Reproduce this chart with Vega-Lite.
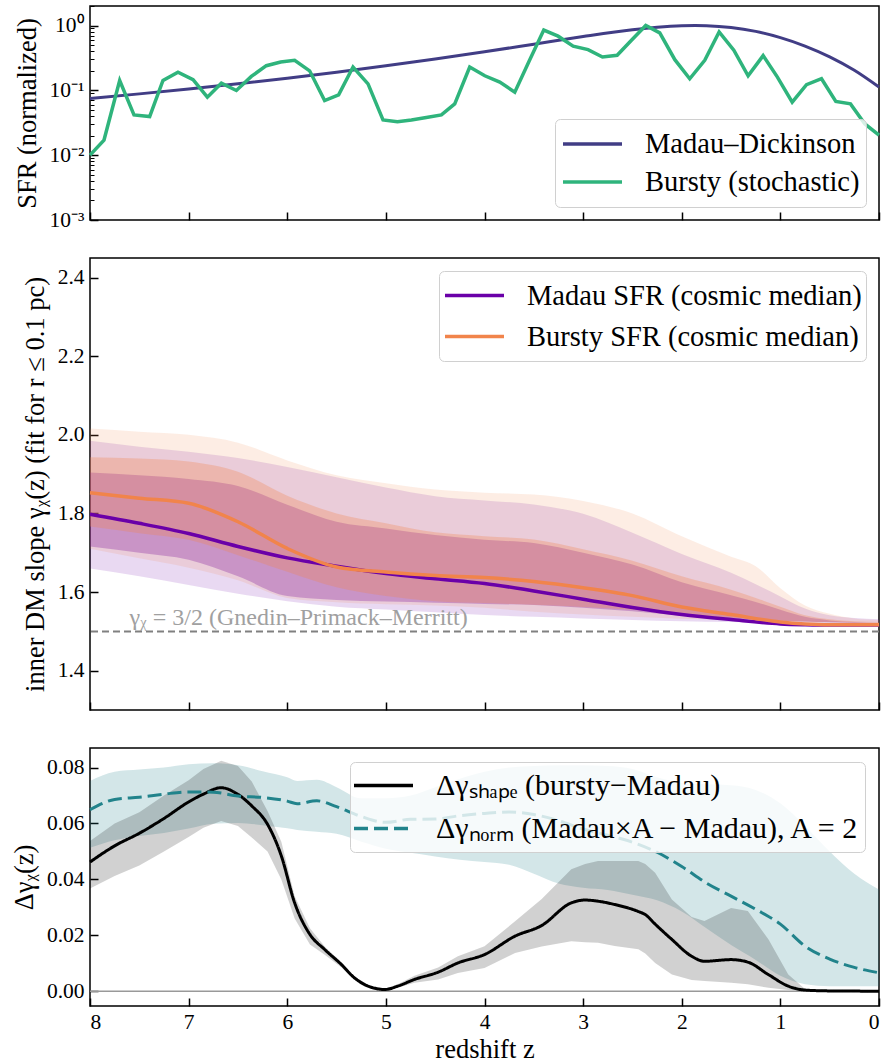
{
  "$schema": "https://vega.github.io/schema/vega-lite/v6.json",
  "padding": {"left": 10, "top": 4, "right": 0, "bottom": 0},
  "background": "white",
  "spacing": 38,
  "bounds": "flush",
  "resolve": {"scale": {"color": "independent", "strokeDash": "independent"}},
  "config": {
    "font": "Liberation Serif",
    "view": {"stroke": "black", "strokeWidth": 1.5},
    "style": {"guide-label": {"font": "Liberation Serif", "fontWeight": "normal"}, "guide-title": {"font": "Liberation Serif", "fontWeight": "normal"}},
    "axis": {
      "domain": false, "grid": false, "ticks": true,
      "tickColor": "black", "tickWidth": 1.5, "tickSize": -8,
      "labelFont": "Liberation Serif", "labelFontWeight": "normal", "labelFontSize": 21.5, "labelColor": "black",
      "titleFont": "Liberation Serif", "titleFontSize": 26.5, "titleFontWeight": "normal", "titleColor": "black"
    },
    "axisY": {"labelPadding": 14, "titlePadding": 8},
    "axisX": {"labelPadding": 13, "titlePadding": 4},
    "legend": {
      "labelFont": "Liberation Serif", "labelFontSize": 28.5, "labelColor": "black", "labelLimit": 700,
      "fillColor": "rgba(255,255,255,0.8)", "strokeColor": "#d0d0d0", "cornerRadius": 5,
      "padding": 9, "symbolType": "stroke", "symbolSize": 3481, "symbolStrokeWidth": 3.5,
      "labelOffset": 21, "rowPadding": 0, "clipHeight": 40, "offset": 13
    }
  },
  "datasets": {
    "sfr_madau": [
      {"z": 0, "sfr": 0.1125}, {"z": 0.25, "sfr": 0.2042}, {"z": 0.5, "sfr": 0.3289}, {"z": 0.75, "sfr": 0.4825},
      {"z": 1, "sfr": 0.6516}, {"z": 1.25, "sfr": 0.8113}, {"z": 1.5, "sfr": 0.9326}, {"z": 1.75, "sfr": 0.9937},
      {"z": 1.863, "sfr": 1.0}, {"z": 2, "sfr": 0.9915}, {"z": 2.25, "sfr": 0.9394}, {"z": 2.5, "sfr": 0.8588},
      {"z": 3, "sfr": 0.6749}, {"z": 3.5, "sfr": 0.5149}, {"z": 4, "sfr": 0.3931}, {"z": 4.5, "sfr": 0.3039},
      {"z": 5, "sfr": 0.2387}, {"z": 5.5, "sfr": 0.1903}, {"z": 6, "sfr": 0.1541}, {"z": 6.5, "sfr": 0.1264},
      {"z": 7, "sfr": 0.1050}, {"z": 7.5, "sfr": 0.0882}, {"z": 8, "sfr": 0.0746}
    ],
    "sfr_bursty": [
      {"z": 8, "sfr": 0.0100}, {"z": 7.858, "sfr": 0.0171}, {"z": 7.699, "sfr": 0.142}, {"z": 7.554, "sfr": 0.0417},
      {"z": 7.395, "sfr": 0.0394}, {"z": 7.26, "sfr": 0.142}, {"z": 7.108, "sfr": 0.191}, {"z": 6.955, "sfr": 0.146},
      {"z": 6.81, "sfr": 0.0785}, {"z": 6.668, "sfr": 0.129}, {"z": 6.516, "sfr": 0.0996}, {"z": 6.364, "sfr": 0.164},
      {"z": 6.212, "sfr": 0.240}, {"z": 6.067, "sfr": 0.274}, {"z": 5.925, "sfr": 0.290}, {"z": 5.773, "sfr": 0.200},
      {"z": 5.621, "sfr": 0.0697}, {"z": 5.479, "sfr": 0.0851}, {"z": 5.333, "sfr": 0.229}, {"z": 5.181, "sfr": 0.126},
      {"z": 5.029, "sfr": 0.0349}, {"z": 4.883, "sfr": 0.0329}, {"z": 4.741, "sfr": 0.0349}, {"z": 4.59, "sfr": 0.038},
      {"z": 4.437, "sfr": 0.0417}, {"z": 4.302, "sfr": 0.0618}, {"z": 4.15, "sfr": 0.229}, {"z": 3.997, "sfr": 0.168},
      {"z": 3.845, "sfr": 0.134}, {"z": 3.693, "sfr": 0.0938}, {"z": 3.548, "sfr": 0.281}, {"z": 3.399, "sfr": 0.849},
      {"z": 3.254, "sfr": 0.685}, {"z": 3.101, "sfr": 0.480}, {"z": 2.95, "sfr": 0.425}, {"z": 2.804, "sfr": 0.327},
      {"z": 2.655, "sfr": 0.348}, {"z": 2.51, "sfr": 0.594}, {"z": 2.365, "sfr": 1.0}, {"z": 2.223, "sfr": 0.77},
      {"z": 2.07, "sfr": 0.297}, {"z": 1.919, "sfr": 0.151}, {"z": 1.767, "sfr": 0.290}, {"z": 1.621, "sfr": 0.798},
      {"z": 1.472, "sfr": 0.416}, {"z": 1.327, "sfr": 0.168}, {"z": 1.175, "sfr": 0.343}, {"z": 1.03, "sfr": 0.160},
      {"z": 0.88, "sfr": 0.0656}, {"z": 0.735, "sfr": 0.122}, {"z": 0.583, "sfr": 0.151}, {"z": 0.438, "sfr": 0.0673},
      {"z": 0.289, "sfr": 0.0618}, {"z": 0.143, "sfr": 0.0303}, {"z": 0, "sfr": 0.0204}
    ],
    "bands": [
      {"z": 8, "mo_lo": 1.660, "mo_hi": 1.985, "mi_lo": 1.716, "mi_hi": 1.904, "bo_lo": 1.710, "bo_hi": 2.016, "bi_lo": 1.767, "bi_hi": 1.943},
      {"z": 7.5, "mo_lo": 1.640, "mo_hi": 1.970, "mi_lo": 1.700, "mi_hi": 1.897, "bo_lo": 1.686, "bo_hi": 2.008, "bi_lo": 1.750, "bi_hi": 1.940},
      {"z": 7, "mo_lo": 1.618, "mo_hi": 1.957, "mi_lo": 1.682, "mi_hi": 1.888, "bo_lo": 1.662, "bo_hi": 2.000, "bi_lo": 1.733, "bi_hi": 1.932},
      {"z": 6.5, "mo_lo": 1.596, "mo_hi": 1.941, "mi_lo": 1.640, "mi_hi": 1.870, "bo_lo": 1.630, "bo_hi": 1.980, "bi_lo": 1.694, "bi_hi": 1.906},
      {"z": 6, "mo_lo": 1.577, "mo_hi": 1.918, "mi_lo": 1.590, "mi_hi": 1.822, "bo_lo": 1.585, "bo_hi": 1.935, "bi_lo": 1.652, "bi_hi": 1.845},
      {"z": 5.5, "mo_lo": 1.563, "mo_hi": 1.892, "mi_lo": 1.580, "mi_hi": 1.779, "bo_lo": 1.574, "bo_hi": 1.897, "bi_lo": 1.612, "bi_hi": 1.800},
      {"z": 5, "mo_lo": 1.556, "mo_hi": 1.866, "mi_lo": 1.576, "mi_hi": 1.762, "bo_lo": 1.569, "bo_hi": 1.877, "bi_lo": 1.590, "bi_hi": 1.775},
      {"z": 4.5, "mo_lo": 1.549, "mo_hi": 1.844, "mi_lo": 1.573, "mi_hi": 1.745, "bo_lo": 1.566, "bo_hi": 1.861, "bi_lo": 1.577, "bi_hi": 1.752},
      {"z": 4, "mo_lo": 1.542, "mo_hi": 1.833, "mi_lo": 1.570, "mi_hi": 1.733, "bo_lo": 1.560, "bo_hi": 1.853, "bi_lo": 1.572, "bi_hi": 1.742},
      {"z": 3.5, "mo_lo": 1.537, "mo_hi": 1.823, "mi_lo": 1.567, "mi_hi": 1.725, "bo_lo": 1.550, "bo_hi": 1.848, "bi_lo": 1.568, "bi_hi": 1.734},
      {"z": 3, "mo_lo": 1.533, "mo_hi": 1.799, "mi_lo": 1.560, "mi_hi": 1.700, "bo_lo": 1.543, "bo_hi": 1.832, "bi_lo": 1.562, "bi_hi": 1.709},
      {"z": 2.5, "mo_lo": 1.529, "mo_hi": 1.751, "mi_lo": 1.551, "mi_hi": 1.670, "bo_lo": 1.537, "bo_hi": 1.800, "bi_lo": 1.555, "bi_hi": 1.680},
      {"z": 2, "mo_lo": 1.526, "mo_hi": 1.697, "mi_lo": 1.540, "mi_hi": 1.625, "bo_lo": 1.532, "bo_hi": 1.742, "bi_lo": 1.543, "bi_hi": 1.640},
      {"z": 1.5, "mo_lo": 1.524, "mo_hi": 1.649, "mi_lo": 1.533, "mi_hi": 1.592, "bo_lo": 1.529, "bo_hi": 1.690, "bi_lo": 1.535, "bi_hi": 1.606},
      {"z": 1.25, "mo_lo": 1.523, "mo_hi": 1.620, "mi_lo": 1.530, "mi_hi": 1.575, "bo_lo": 1.527, "bo_hi": 1.666, "bi_lo": 1.531, "bi_hi": 1.585},
      {"z": 1, "mo_lo": 1.522, "mo_hi": 1.589, "mi_lo": 1.527, "mi_hi": 1.555, "bo_lo": 1.526, "bo_hi": 1.610, "bi_lo": 1.527, "bi_hi": 1.563},
      {"z": 0.75, "mo_lo": 1.521, "mo_hi": 1.558, "mi_lo": 1.525, "mi_hi": 1.537, "bo_lo": 1.524, "bo_hi": 1.566, "bi_lo": 1.525, "bi_hi": 1.541},
      {"z": 0.5, "mo_lo": 1.520, "mo_hi": 1.541, "mi_lo": 1.523, "mi_hi": 1.528, "bo_lo": 1.523, "bo_hi": 1.545, "bi_lo": 1.523, "bi_hi": 1.531},
      {"z": 0.25, "mo_lo": 1.520, "mo_hi": 1.534, "mi_lo": 1.522, "mi_hi": 1.524, "bo_lo": 1.522, "bo_hi": 1.533, "bi_lo": 1.522, "bi_hi": 1.526},
      {"z": 0, "mo_lo": 1.520, "mo_hi": 1.531, "mi_lo": 1.522, "mi_hi": 1.522, "bo_lo": 1.522, "bo_hi": 1.529, "bi_lo": 1.522, "bi_hi": 1.524}
    ],
    "medians": [
      {"z": 8, "madau": 1.798, "bursty": 1.853}, {"z": 7.5, "madau": 1.775, "bursty": 1.839},
      {"z": 7, "madau": 1.749, "bursty": 1.826}, {"z": 6.5, "madau": 1.716, "bursty": 1.779},
      {"z": 6, "madau": 1.687, "bursty": 1.711}, {"z": 5.5, "madau": 1.666, "bursty": 1.664},
      {"z": 5, "madau": 1.647, "bursty": 1.651}, {"z": 4.5, "madau": 1.634, "bursty": 1.642},
      {"z": 4, "madau": 1.622, "bursty": 1.637}, {"z": 3.5, "madau": 1.603, "bursty": 1.627},
      {"z": 3, "madau": 1.582, "bursty": 1.611}, {"z": 2.5, "madau": 1.561, "bursty": 1.591},
      {"z": 2, "madau": 1.543, "bursty": 1.562}, {"z": 1.5, "madau": 1.530, "bursty": 1.543},
      {"z": 1, "madau": 1.519, "bursty": 1.524}, {"z": 0.75, "madau": 1.517, "bursty": 1.519},
      {"z": 0.5, "madau": 1.516, "bursty": 1.517}, {"z": 0.25, "madau": 1.516, "bursty": 1.517},
      {"z": 0, "madau": 1.516, "bursty": 1.517}
    ],
    "ref": [{"gamma": 1.5, "z": 7.6, "label": "γᵪ = 3/2 (Gnedin–Primack–Merritt)"}],
    "zero": [{"v": 0}],
    "shape": [
      {"z": 8.0, "d": 0.0462, "lo": 0.0367, "hi": 0.0537},
      {"z": 7.75, "d": 0.0520, "lo": 0.0412, "hi": 0.0600},
      {"z": 7.5, "d": 0.0565, "lo": 0.0450, "hi": 0.0640},
      {"z": 7.25, "d": 0.0618, "lo": 0.0500, "hi": 0.0700},
      {"z": 7.0, "d": 0.0677, "lo": 0.0552, "hi": 0.0755},
      {"z": 6.85, "d": 0.0705, "lo": 0.0585, "hi": 0.0795},
      {"z": 6.67, "d": 0.0728, "lo": 0.0609, "hi": 0.0824},
      {"z": 6.5, "d": 0.0704, "lo": 0.0591, "hi": 0.0806},
      {"z": 6.36, "d": 0.0663, "lo": 0.0550, "hi": 0.0750},
      {"z": 6.2, "d": 0.0597, "lo": 0.0500, "hi": 0.0645},
      {"z": 6.06, "d": 0.0484, "lo": 0.0400, "hi": 0.0535},
      {"z": 5.925, "d": 0.0316, "lo": 0.0260, "hi": 0.0340},
      {"z": 5.77, "d": 0.0203, "lo": 0.0167, "hi": 0.0225},
      {"z": 5.62, "d": 0.0149, "lo": 0.0130, "hi": 0.0160},
      {"z": 5.45, "d": 0.0095, "lo": 0.0085, "hi": 0.0103},
      {"z": 5.32, "d": 0.0048, "lo": 0.0042, "hi": 0.0053},
      {"z": 5.18, "d": 0.0018, "lo": 0.0014, "hi": 0.0022},
      {"z": 5.01, "d": 0.0006, "lo": 0.0003, "hi": 0.0009},
      {"z": 4.88, "d": 0.0018, "lo": 0.0012, "hi": 0.0025},
      {"z": 4.71, "d": 0.0042, "lo": 0.0030, "hi": 0.0055},
      {"z": 4.47, "d": 0.0068, "lo": 0.0042, "hi": 0.0085},
      {"z": 4.27, "d": 0.0101, "lo": 0.0065, "hi": 0.0125},
      {"z": 4.0, "d": 0.0131, "lo": 0.0083, "hi": 0.0161},
      {"z": 3.69, "d": 0.0197, "lo": 0.0137, "hi": 0.0250},
      {"z": 3.42, "d": 0.0235, "lo": 0.0160, "hi": 0.0330},
      {"z": 3.12, "d": 0.0316, "lo": 0.0179, "hi": 0.0436},
      {"z": 2.98, "d": 0.0326, "lo": 0.0175, "hi": 0.0455},
      {"z": 2.85, "d": 0.0322, "lo": 0.0173, "hi": 0.0466},
      {"z": 2.68, "d": 0.0310, "lo": 0.0162, "hi": 0.0466},
      {"z": 2.44, "d": 0.0285, "lo": 0.0150, "hi": 0.0466},
      {"z": 2.37, "d": 0.0274, "lo": 0.0135, "hi": 0.0455},
      {"z": 2.27, "d": 0.0240, "lo": 0.0101, "hi": 0.0424},
      {"z": 2.1, "d": 0.0185, "lo": 0.0060, "hi": 0.0328},
      {"z": 1.9, "d": 0.0125, "lo": 0.0040, "hi": 0.0265},
      {"z": 1.77, "d": 0.0107, "lo": 0.0036, "hi": 0.0251},
      {"z": 1.5, "d": 0.0113, "lo": 0.0030, "hi": 0.0298},
      {"z": 1.33, "d": 0.0104, "lo": 0.0025, "hi": 0.0287},
      {"z": 1.12, "d": 0.0059, "lo": 0.0012, "hi": 0.0185},
      {"z": 0.92, "d": 0.0018, "lo": 0.0004, "hi": 0.0060},
      {"z": 0.75, "d": 0.0004, "lo": 0.0001, "hi": 0.0008},
      {"z": 0.5, "d": 0.0001, "lo": 0.0, "hi": 0.0002},
      {"z": 0.0, "d": 0.0, "lo": 0.0, "hi": 0.0}
    ],
    "norm": [
      {"z": 8.0, "d": 0.0649, "lo": 0.0513, "hi": 0.0752},
      {"z": 7.75, "d": 0.0686, "lo": 0.0540, "hi": 0.0785},
      {"z": 7.5, "d": 0.0694, "lo": 0.0555, "hi": 0.0793},
      {"z": 7.25, "d": 0.0705, "lo": 0.0566, "hi": 0.0800},
      {"z": 7.0, "d": 0.0713, "lo": 0.0582, "hi": 0.0812},
      {"z": 6.75, "d": 0.0712, "lo": 0.0599, "hi": 0.0815},
      {"z": 6.5, "d": 0.0698, "lo": 0.0602, "hi": 0.0808},
      {"z": 6.25, "d": 0.0693, "lo": 0.0594, "hi": 0.0787},
      {"z": 6.0, "d": 0.0680, "lo": 0.0583, "hi": 0.0765},
      {"z": 5.9, "d": 0.0671, "lo": 0.0577, "hi": 0.0752},
      {"z": 5.7, "d": 0.0681, "lo": 0.0570, "hi": 0.0756},
      {"z": 5.5, "d": 0.0660, "lo": 0.0563, "hi": 0.0730},
      {"z": 5.25, "d": 0.0625, "lo": 0.0535, "hi": 0.0690},
      {"z": 5.0, "d": 0.0604, "lo": 0.0510, "hi": 0.0690},
      {"z": 4.75, "d": 0.0615, "lo": 0.0495, "hi": 0.0700},
      {"z": 4.5, "d": 0.0616, "lo": 0.0482, "hi": 0.0730},
      {"z": 4.25, "d": 0.0628, "lo": 0.0470, "hi": 0.0760},
      {"z": 4.0, "d": 0.0636, "lo": 0.0462, "hi": 0.0785},
      {"z": 3.75, "d": 0.0641, "lo": 0.0452, "hi": 0.0800},
      {"z": 3.5, "d": 0.0632, "lo": 0.0420, "hi": 0.0806},
      {"z": 3.25, "d": 0.0610, "lo": 0.0385, "hi": 0.0808},
      {"z": 3.0, "d": 0.0580, "lo": 0.0370, "hi": 0.0808},
      {"z": 2.75, "d": 0.0558, "lo": 0.0362, "hi": 0.0806},
      {"z": 2.5, "d": 0.0533, "lo": 0.0345, "hi": 0.0795},
      {"z": 2.25, "d": 0.0497, "lo": 0.0325, "hi": 0.0765},
      {"z": 2.0, "d": 0.0446, "lo": 0.0285, "hi": 0.0745},
      {"z": 1.75, "d": 0.0387, "lo": 0.0225, "hi": 0.0740},
      {"z": 1.5, "d": 0.0340, "lo": 0.0165, "hi": 0.0737},
      {"z": 1.25, "d": 0.0293, "lo": 0.0112, "hi": 0.0720},
      {"z": 1.0, "d": 0.0240, "lo": 0.0055, "hi": 0.0672},
      {"z": 0.75, "d": 0.0161, "lo": 0.0025, "hi": 0.0591},
      {"z": 0.5, "d": 0.0115, "lo": 0.0018, "hi": 0.0500},
      {"z": 0.25, "d": 0.0085, "lo": 0.0018, "hi": 0.0420},
      {"z": 0.0, "d": 0.0066, "lo": 0.0018, "hi": 0.0364}
    ]
  },
  "vconcat": [
    {
      "width": 789, "height": 214,
      "layer": [
        {
          "data": {"name": "sfr_madau"},
          "mark": {"type": "line", "interpolate": "monotone", "strokeWidth": 3},
          "encoding": {
            "x": {"field": "z", "type": "quantitative", "scale": {"domain": [0, 8], "reverse": true, "nice": false, "zero": false},
                  "axis": {"values": [0, 1, 2, 3, 4, 5, 6, 7, 8], "labels": false, "title": null}},
            "y": {"field": "sfr", "type": "quantitative", "scale": {"type": "log", "domain": [0.001, 2], "nice": false},
                  "axis": {"title": "SFR (normalized)", "labelFont": "Liberation Serif",
                           "values": [0.001, 0.002, 0.003, 0.004, 0.005, 0.006, 0.007, 0.008, 0.009, 0.01, 0.02, 0.03, 0.04, 0.05, 0.06, 0.07, 0.08, 0.09, 0.1, 0.2, 0.3, 0.4, 0.5, 0.6, 0.7, 0.8, 0.9, 1, 2],
                           "labelExpr": "datum.value == 1 ? '10⁰' : datum.value == 0.1 ? '10⁻¹' : datum.value == 0.01 ? '10⁻²' : datum.value == 0.001 ? '10⁻³' : ''",
                           "tickSize": {"condition": {"test": "datum.value == 1 || datum.value == 0.1 || datum.value == 0.01 || datum.value == 0.001", "value": -8}, "value": -4},
                           "tickWidth": {"condition": {"test": "datum.value == 1 || datum.value == 0.1 || datum.value == 0.01 || datum.value == 0.001", "value": 1.5}, "value": 1}}},
            "color": {"datum": "Madau–Dickinson", "type": "nominal",
                      "scale": {"domain": ["Madau–Dickinson", "Bursty (stochastic)"], "range": ["#413d85", "#2fb47c"]},
                      "legend": {"orient": "bottom-right", "title": null, "clipHeight": 38, "padding": 6, "offset": 13}}
          }
        },
        {
          "data": {"name": "sfr_bursty"},
          "mark": {"type": "line", "strokeWidth": 3.5},
          "encoding": {
            "x": {"field": "z", "type": "quantitative"},
            "y": {"field": "sfr", "type": "quantitative"},
            "color": {"datum": "Bursty (stochastic)", "type": "nominal"}
          }
        }
      ]
    },
    {
      "width": 789, "height": 452,
      "layer": [
        {
          "data": {"name": "bands"},
          "mark": {"type": "area", "color": "#6a00a8", "opacity": 0.15, "interpolate": "monotone"},
          "encoding": {
            "x": {"field": "z", "type": "quantitative", "scale": {"domain": [0, 8], "reverse": true, "nice": false, "zero": false},
                  "axis": {"values": [0, 1, 2, 3, 4, 5, 6, 7, 8], "labels": false, "title": null}},
            "y": {"field": "mo_lo", "type": "quantitative", "scale": {"domain": [1.3, 2.45], "nice": false, "zero": false},
                  "axis": {"title": "inner DM slope γᵪ(z) (fit for r ≤ 0.1 pc)", "labelFont": "Liberation Serif", "values": [1.4, 1.6, 1.8, 2.0, 2.2, 2.4], "format": ".1f"}},
            "y2": {"field": "mo_hi"}
          }
        },
        {
          "data": {"name": "bands"},
          "mark": {"type": "area", "color": "#6a00a8", "opacity": 0.3, "interpolate": "monotone"},
          "encoding": {
            "x": {"field": "z", "type": "quantitative"},
            "y": {"field": "mi_lo", "type": "quantitative"},
            "y2": {"field": "mi_hi"}
          }
        },
        {
          "data": {"name": "bands"},
          "mark": {"type": "area", "color": "#f1844b", "opacity": 0.15, "interpolate": "monotone"},
          "encoding": {
            "x": {"field": "z", "type": "quantitative"},
            "y": {"field": "bo_lo", "type": "quantitative"},
            "y2": {"field": "bo_hi"}
          }
        },
        {
          "data": {"name": "bands"},
          "mark": {"type": "area", "color": "#f1844b", "opacity": 0.3, "interpolate": "monotone"},
          "encoding": {
            "x": {"field": "z", "type": "quantitative"},
            "y": {"field": "bi_lo", "type": "quantitative"},
            "y2": {"field": "bi_hi"}
          }
        },
        {
          "data": {"name": "ref"},
          "mark": {"type": "rule", "color": "#808080", "strokeWidth": 2, "strokeDash": [7, 4]},
          "encoding": {
            "y": {"field": "gamma", "type": "quantitative"}
          }
        },
        {
          "data": {"name": "ref"},
          "mark": {"type": "text", "align": "left", "baseline": "alphabetic", "dy": -6, "fontSize": 24, "color": "#a0a0a0", "font": "Liberation Serif"},
          "encoding": {
            "x": {"field": "z", "type": "quantitative"},
            "y": {"field": "gamma", "type": "quantitative"},
            "text": {"field": "label"}
          }
        },
        {
          "data": {"name": "medians"},
          "mark": {"type": "line", "strokeWidth": 3.5, "interpolate": "monotone"},
          "encoding": {
            "x": {"field": "z", "type": "quantitative"},
            "y": {"field": "madau", "type": "quantitative"},
            "color": {"datum": "Madau SFR (cosmic median)", "type": "nominal",
                      "scale": {"domain": ["Madau SFR (cosmic median)", "Bursty SFR (cosmic median)"], "range": ["#6a00a8", "#f1844b"]},
                      "legend": {"orient": "top-right", "title": null, "clipHeight": 41, "padding": 4, "offset": 13}}
          }
        },
        {
          "data": {"name": "medians"},
          "mark": {"type": "line", "strokeWidth": 3.5, "interpolate": "monotone"},
          "encoding": {
            "x": {"field": "z", "type": "quantitative"},
            "y": {"field": "bursty", "type": "quantitative"},
            "color": {"datum": "Bursty SFR (cosmic median)", "type": "nominal"}
          }
        }
      ]
    },
    {
      "width": 789, "height": 258,
      "layer": [
        {
          "data": {"name": "norm"},
          "mark": {"type": "area", "color": "#21838b", "opacity": 0.2, "interpolate": "monotone"},
          "encoding": {
            "x": {"field": "z", "type": "quantitative", "scale": {"domain": [0, 8], "reverse": true, "nice": false, "zero": false},
                  "axis": {"values": [0, 1, 2, 3, 4, 5, 6, 7, 8], "format": "d", "title": "redshift z", "labelFont": "Liberation Serif"}},
            "y": {"field": "lo", "type": "quantitative", "scale": {"domain": [-0.0053, 0.087], "nice": false, "zero": false},
                  "axis": {"title": "Δγᵪ(z)", "labelFont": "Liberation Serif", "values": [0, 0.02, 0.04, 0.06, 0.08], "format": ".2f"}},
            "y2": {"field": "hi"}
          }
        },
        {
          "data": {"name": "shape"},
          "mark": {"type": "area", "color": "black", "opacity": 0.18},
          "encoding": {
            "x": {"field": "z", "type": "quantitative"},
            "y": {"field": "lo", "type": "quantitative"},
            "y2": {"field": "hi"}
          }
        },
        {
          "data": {"name": "zero"},
          "mark": {"type": "rule", "color": "#999999", "strokeWidth": 1.5},
          "encoding": {
            "y": {"field": "v", "type": "quantitative"}
          }
        },
        {
          "data": {"name": "shape"},
          "mark": {"type": "line", "strokeWidth": 3, "interpolate": "monotone"},
          "encoding": {
            "x": {"field": "z", "type": "quantitative"},
            "y": {"field": "d", "type": "quantitative"},
            "color": {"datum": "Δγₛₕₐₚₑ (bursty−Madau)", "type": "nominal",
                      "scale": {"domain": ["Δγₛₕₐₚₑ (bursty−Madau)", "Δγₙₒᵣₘ (Madau×A − Madau), A = 2"], "range": ["black", "#21838b"]},
                      "legend": {"orient": "top-right", "title": null, "clipHeight": 43, "padding": 2, "offset": 14, "labelFontSize": 30}},
            "strokeDash": {"datum": "Δγₛₕₐₚₑ (bursty−Madau)", "type": "nominal",
                      "scale": {"domain": ["Δγₛₕₐₚₑ (bursty−Madau)", "Δγₙₒᵣₘ (Madau×A − Madau), A = 2"], "range": [[1, 0], [14, 6]]},
                      "legend": {"orient": "top-right", "title": null, "clipHeight": 43, "padding": 2, "offset": 14, "labelFontSize": 30}}
          }
        },
        {
          "data": {"name": "norm"},
          "mark": {"type": "line", "strokeWidth": 3, "interpolate": "monotone"},
          "encoding": {
            "x": {"field": "z", "type": "quantitative"},
            "y": {"field": "d", "type": "quantitative"},
            "color": {"datum": "Δγₙₒᵣₘ (Madau×A − Madau), A = 2", "type": "nominal"},
            "strokeDash": {"datum": "Δγₙₒᵣₘ (Madau×A − Madau), A = 2", "type": "nominal"}
          }
        }
      ]
    }
  ]
}
